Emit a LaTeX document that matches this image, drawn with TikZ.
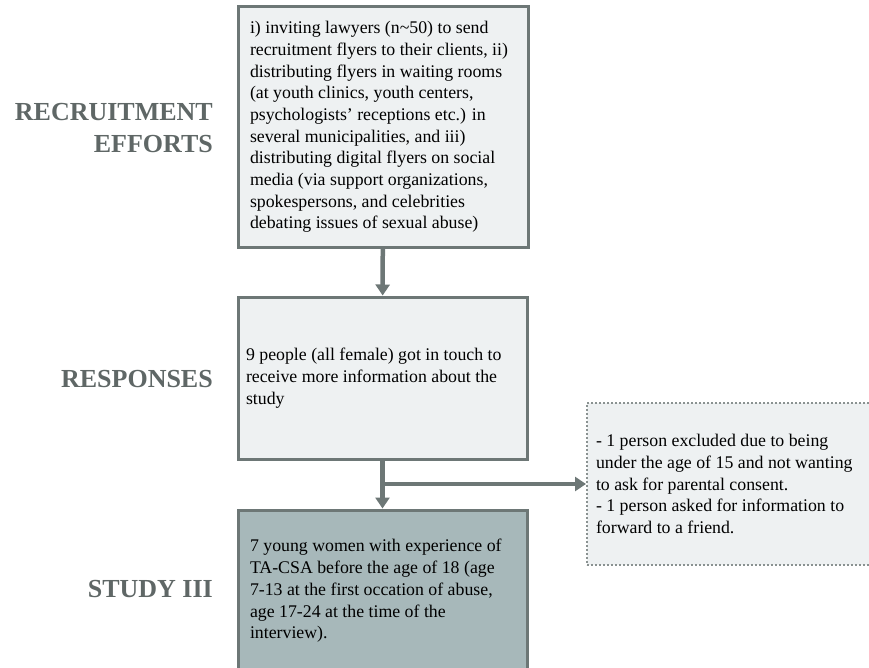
\documentclass[tikz,border=0pt]{standalone}
\usepackage{fontspec}
\setmainfont{Liberation Serif}
\usetikzlibrary{arrows.meta}
\definecolor{rand}{HTML}{6D7776}
\definecolor{hell}{HTML}{EEF1F2}
\definecolor{dunkel}{HTML}{A7B8BA}
\definecolor{schrift}{HTML}{5F6766}
\tikzset{
	kasten/.style={draw=rand,line width=3pt,fill=hell,inner sep=0pt,align=left,
		font=\fontsize{17.8}{21.7}\selectfont},
	stufe/.style={anchor=east,align=right,text=schrift,inner sep=0pt,
		font=\fontsize{26}{32}\selectfont\bfseries},
	fluss/.style={draw=rand,line width=4.5pt,-{Triangle[width=14pt,length=11pt]}}
}
\begin{document}
\begin{tikzpicture}[x=1pt,y=-1pt]
	\useasboundingbox (0,0) rectangle (869,668);
	\clip (0,0) rectangle (869,668);
	% Kaesten
	\node[kasten,minimum width=290,minimum height=240] (rec) at (383,127)
		{\parbox{266pt}{i) inviting lawyers (n\textasciitilde50) to send\\
		recruitment flyers to their clients, ii)\\
		distributing flyers in waiting rooms\\
		(at youth clinics, youth centers,\\
		psychologists’ receptions etc.) in\\
		several municipalities, and iii)\\
		distributing digital flyers on social\\
		media (via support organizations,\\
		spokespersons, and celebrities\\
		debating issues of sexual abuse)}};
	\node[kasten,minimum width=289,minimum height=162] (resp) at (382.5,378)
		{\raisebox{-4pt}{\parbox{273pt}{9 people (all female) got in touch to\\
		receive more information about the\\
		study}}};
	\node[kasten,fill=dunkel,minimum width=289,minimum height=162] (study) at (382.5,591)
		{\parbox{265pt}{7 young women with experience of\\
		TA-CSA before the age of 18 (age\\
		7-13 at the first occation of abuse,\\
		age 17-24 at the time of the\\
		interview).}};
	\node[kasten,draw=rand!80,line width=2pt,dash pattern=on 2pt off 2pt,
		minimum width=284,minimum height=162] (excl) at (729,484)
		{\parbox{266pt}{- 1 person excluded due to being\\
		under the age of 15 and not wanting\\
		to ask for parental consent.\\
		- 1 person asked for information to\\
		forward to a friend.}};
	% Stufen
	\node[stufe] (labRec) at (213,128) {RECRUITMENT\\EFFORTS};
	\node[stufe] (labResp) at (213,379) {RESPONSES};
	\node[stufe] (labStudy) at (213,589) {STUDY III};
	% Pfeile
	\coordinate (abzw) at (resp.south |- 0,484);
	\draw[fluss] (rec) -- (resp);
	\draw[fluss] (resp) -- (study);
	\draw[fluss] (abzw) -- (excl.west);
\end{tikzpicture}
\end{document}
